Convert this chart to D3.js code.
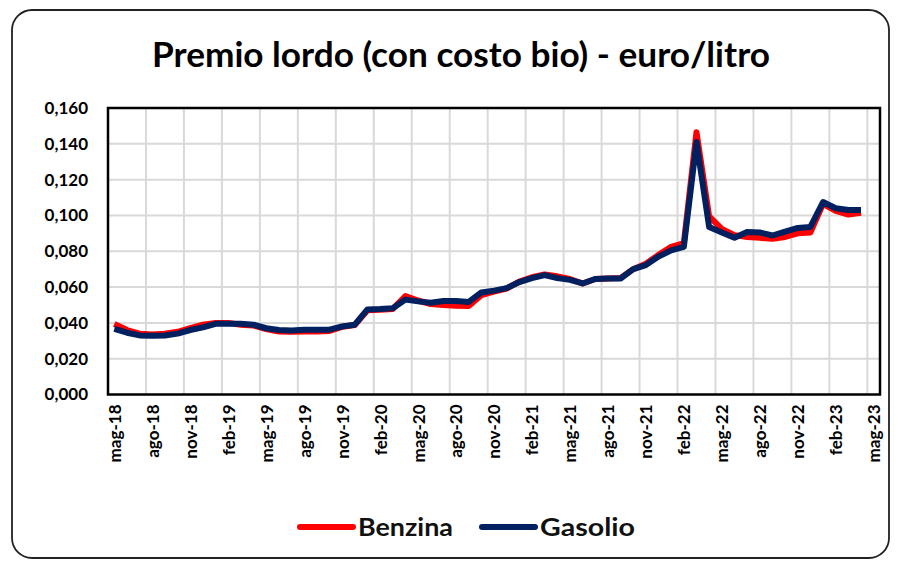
<!DOCTYPE html>
<html><head><meta charset="utf-8">
<script src="https://cdn.jsdelivr.net/npm/d3@7"></script>
<style>body{margin:0;background:#fff}</style>
</head><body>
<svg id="c" width="902" height="565"></svg>
<script>
const title = "Premio lordo (con costo bio) - euro/litro";
const monthNames = ["gen","feb","mar","apr","mag","giu","lug","ago","set","ott","nov","dic"];
// months from mag-18 (index 0) to apr-23 (index 59)
const startYear = 2018, startMonth = 4;
const benzina = [0.0394,0.0360,0.0340,0.0335,0.0340,0.0350,0.0370,0.0390,0.0400,0.0400,
  0.0390,0.0385,0.0365,0.0352,0.0350,0.0352,0.0352,0.0355,0.0378,0.0388,
  0.0470,0.0473,0.0478,0.0550,0.0525,0.0505,0.0500,0.0495,0.0494,0.0555,
  0.0575,0.0592,0.0630,0.0655,0.0670,0.0660,0.0645,0.0620,0.0645,0.0648,
  0.0650,0.0700,0.0730,0.0780,0.0825,0.0845,0.1465,0.0995,0.0925,0.0890,
  0.0880,0.0875,0.0870,0.0880,0.0900,0.0905,0.1065,0.1025,0.1005,0.1015];
const gasolio = [0.0366,0.0345,0.0330,0.0328,0.0330,0.0340,0.0360,0.0375,0.0395,0.0395,
  0.0395,0.0390,0.0370,0.0360,0.0358,0.0362,0.0362,0.0362,0.0380,0.0390,
  0.0475,0.0477,0.0482,0.0530,0.0520,0.0512,0.0522,0.0522,0.0517,0.0570,
  0.0580,0.0594,0.0628,0.0650,0.0667,0.0650,0.0640,0.0620,0.0645,0.0648,
  0.0648,0.0700,0.0723,0.0770,0.0805,0.0825,0.1410,0.0935,0.0905,0.0875,
  0.0908,0.0905,0.0888,0.0910,0.0930,0.0936,0.1075,0.1040,0.1030,0.1030];
const yTicks = [0,0.02,0.04,0.06,0.08,0.10,0.12,0.14,0.16];
const nSlots = 61; // mag-18 .. mag-23
const tickEvery = 3;

const svg = d3.select("#c");
const L = 108, R = 880, T = 108, B = 394.5;
const FONT = "Lato, 'Open Sans', sans-serif";

function monthLabel(i){
  const m = (startMonth + i) % 12;
  const y = startYear + Math.floor((startMonth + i)/12);
  return monthNames[m] + "-" + String(y).slice(2);
}

// outer frame
svg.append("rect").attr("x",12).attr("y",10).attr("width",877).attr("height",548)
  .attr("rx",20).attr("fill","#fff").attr("stroke","#222").attr("stroke-width",1.8);

svg.append("text").attr("x",461).attr("y",67).attr("text-anchor","middle")
  .attr("font-family",FONT).attr("font-weight","bold")
  .attr("font-size",34).attr("fill","#000")
  .attr("textLength",618).attr("lengthAdjust","spacingAndGlyphs").text(title);

const x = d3.scaleLinear().domain([0,nSlots]).range([L,R]);
const y = d3.scaleLinear().domain([0,0.16]).range([B,T]);

// gridlines
const g = svg.append("g");
const vIdx = d3.range(tickEvery, nSlots, tickEvery);
g.selectAll("line.v").data(vIdx).join("line").attr("class","v")
  .attr("x1",d=>x(d)).attr("x2",d=>x(d)).attr("y1",T).attr("y2",B)
  .attr("stroke","#d9d9d9").attr("stroke-width",2);
g.selectAll("line.h").data(yTicks.slice(1,-1)).join("line").attr("class","h")
  .attr("x1",L).attr("x2",R).attr("y1",d=>y(d)).attr("y2",d=>y(d))
  .attr("stroke","#d9d9d9").attr("stroke-width",2);

// y axis labels
const yAxis = d3.axisLeft(y).tickValues(yTicks).tickSize(0).tickPadding(20)
  .tickFormat(d=>d3.format(".3f")(d).replace(".",","));
const ya = svg.append("g").attr("transform",`translate(${L},0)`).call(yAxis);
ya.select(".domain").remove();
ya.selectAll("text").attr("font-family",FONT).attr("font-weight","bold")
  .attr("font-size",17).attr("fill","#000");

// x axis labels (rotated), at slot centers
const labIdx = d3.range(0, nSlots, tickEvery);
const xAxis = d3.axisBottom(x).tickValues(labIdx.map(i=>i+0.5)).tickSize(0)
  .tickFormat(d=>monthLabel(Math.round(d-0.5)));
const xa = svg.append("g").attr("transform",`translate(0,${B})`).call(xAxis);
xa.select(".domain").remove();
xa.selectAll("text").attr("font-family",FONT).attr("font-weight","bold")
  .attr("font-size",17).attr("fill","#000")
  .attr("transform","rotate(-90)").attr("text-anchor","end")
  .attr("x",-10).attr("y",0).attr("dy","0.35em");

// plot border
svg.append("rect").attr("x",L).attr("y",T).attr("width",R-L).attr("height",B-T)
  .attr("fill","none").attr("stroke","#000").attr("stroke-width",2.5);

const line = d3.line().x((d,i)=>x(i+0.5)).y(d=>y(d));
svg.append("path").datum(benzina).attr("d",line).attr("fill","none")
  .attr("stroke","#ff0000").attr("stroke-width",6).attr("stroke-linejoin","round");
svg.append("path").datum(gasolio).attr("d",line).attr("fill","none")
  .attr("stroke","#002060").attr("stroke-width",6).attr("stroke-linejoin","round");

// legend
const leg = [{name:"Benzina",color:"#ff0000",x:300},{name:"Gasolio",color:"#002060",x:482}];
const lg = svg.append("g");
leg.forEach(d=>{
  lg.append("line").attr("x1",d.x).attr("x2",d.x+53).attr("y1",527).attr("y2",527)
    .attr("stroke",d.color).attr("stroke-width",6).attr("stroke-linecap","round");
  lg.append("text").attr("x",d.x+58).attr("y",536).attr("font-family",FONT)
    .attr("font-weight","bold").attr("font-size",25).attr("fill","#111")
    .attr("textLength",95).attr("lengthAdjust","spacingAndGlyphs").text(d.name);
});
</script>
</body></html>
